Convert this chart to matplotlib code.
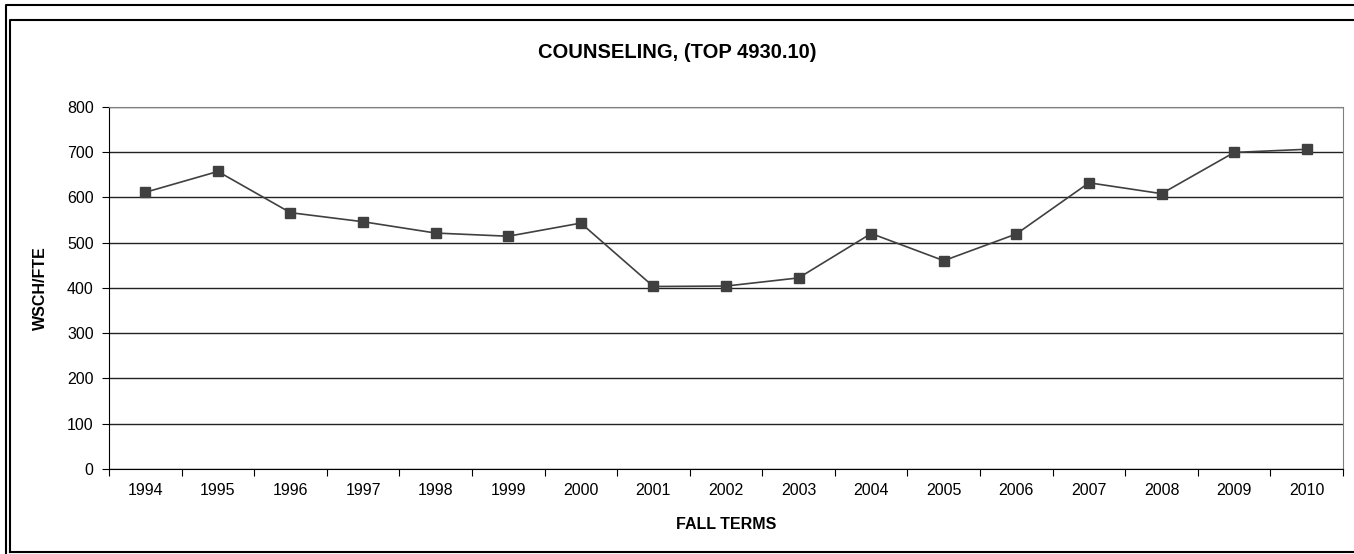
import matplotlib
matplotlib.use('Agg')
import matplotlib.pyplot as plt
from matplotlib.lines import Line2D

plt.rcParams['font.family'] = ['Liberation Sans', 'DejaVu Sans']

# dados do gráfico
anos = ['1994', '1995', '1996', '1997', '1998', '1999', '2000', '2001', '2002',
        '2003', '2004', '2005', '2006', '2007', '2008', '2009', '2010']
wsch_fte = [611, 657, 566, 546, 521, 514, 543, 403, 404,
            422, 520, 460, 519, 632, 608, 699, 706]
y_ticks = [0, 100, 200, 300, 400, 500, 600, 700, 800]

W, H = 1354, 554
fig = plt.figure(figsize=(W / 100, H / 100), dpi=100)
ax = fig.add_axes([0.0805, 0.1534, 0.9114, 0.654])


def fig_line(xs, ys):
    # linha em coordenadas de pixel da figura
    fig.lines.append(Line2D([v / W for v in xs], [1 - v / H for v in ys],
                            transform=fig.transFigure, color='black', linewidth=1.5))


# molduras externas (estilo Excel)
fig_line([6, 6, W + 5], [H + 5, 5, 5])
fig_line([10, 10, W + 5], [H - 2, 20, 20])
fig_line([10, W + 5], [H - 2, H - 2])

x = range(len(anos))
ax.plot(x, wsch_fte, color='#404040', linewidth=1.2, marker='s',
        markersize=7, markerfacecolor='#404040', markeredgecolor='#404040',
        zorder=3)

ax.set_xlim(-0.5, len(anos) - 0.5)
ax.set_ylim(0, 800)
ax.set_yticks(y_ticks)
ax.yaxis.grid(True, color='#222222', linewidth=1)
ax.set_axisbelow(True)

# ticks do eixo x nas fronteiras das categorias
ax.set_xticks([i - 0.5 for i in range(len(anos) + 1)])
ax.set_xticklabels([])
ax.set_xticks(list(x), minor=True)
ax.set_xticklabels(anos, minor=True, fontsize=11.5)
ax.tick_params(axis='x', which='minor', length=0, pad=10)
ax.tick_params(axis='x', which='major', length=5, color='black', direction='out')
ax.tick_params(axis='y', length=5, labelsize=11.5, pad=6, direction='out')

ax.spines['left'].set_color('black')
ax.spines['bottom'].set_color('black')
ax.spines['top'].set_color('#808080')
ax.spines['right'].set_color('#808080')

fig.text(0.5, 1 - 53 / H, 'COUNSELING, (TOP 4930.10)', ha='center', va='center',
         fontsize=14.5, fontweight='bold')
ax.set_xlabel('FALL TERMS', fontsize=11.5, fontweight='bold', labelpad=14)
ax.set_ylabel('WSCH/FTE', fontsize=11.5, fontweight='bold', labelpad=14)

fig.savefig('out.png', dpi=100)
